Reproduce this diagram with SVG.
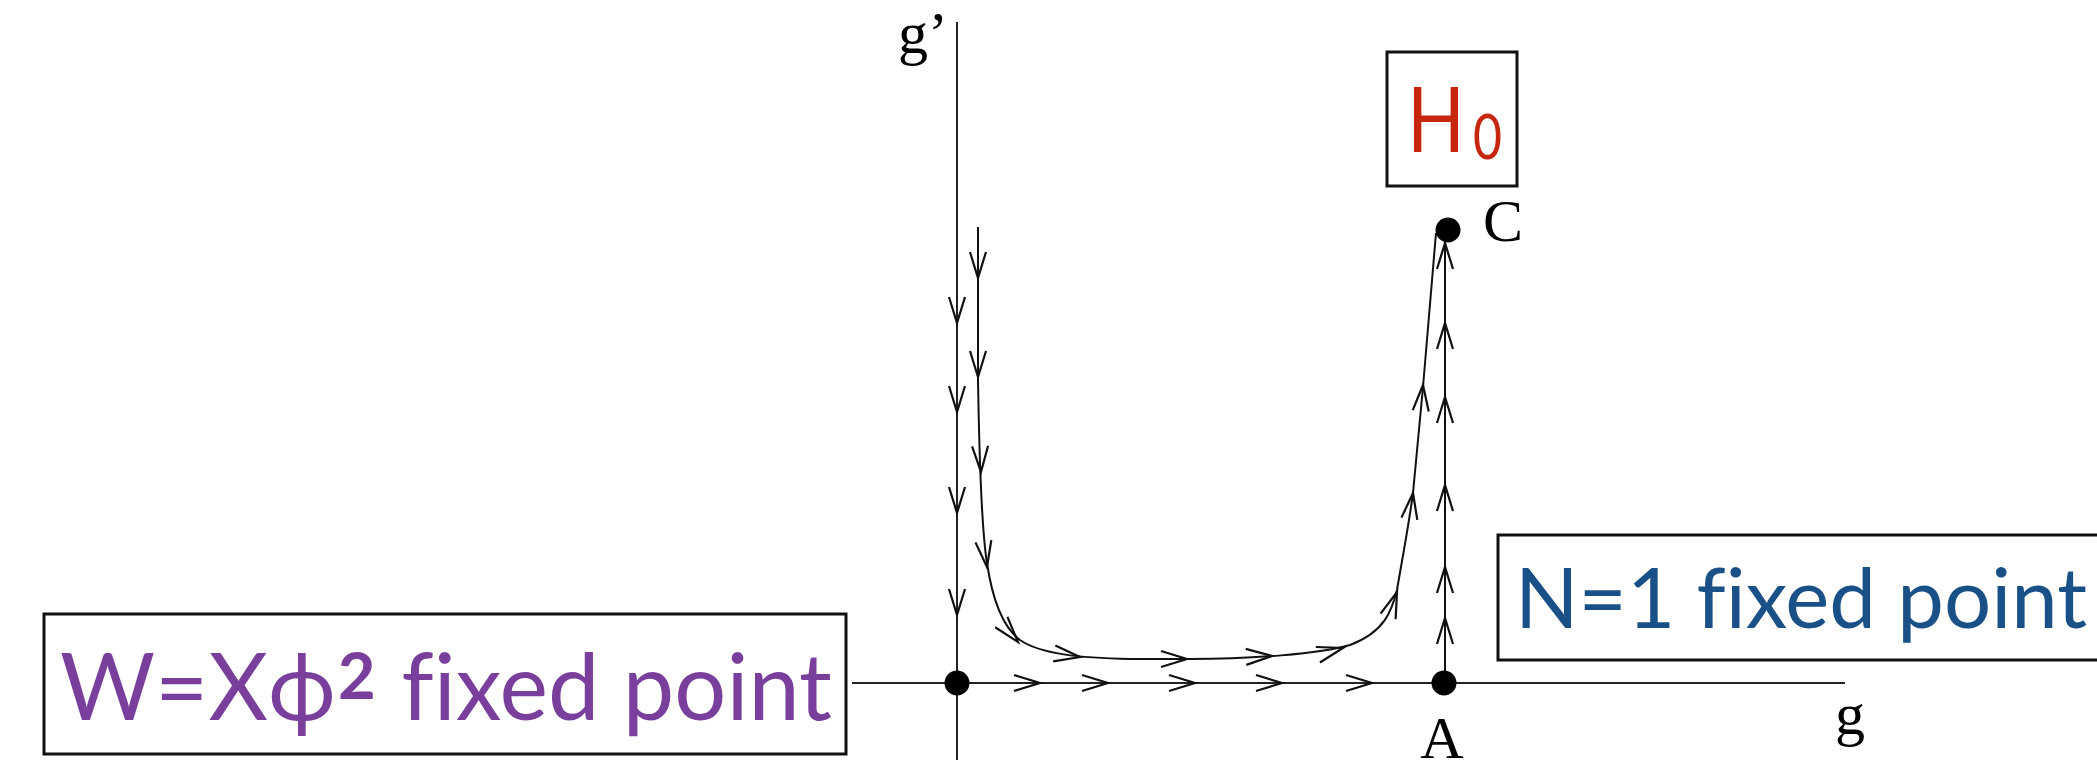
<svg xmlns="http://www.w3.org/2000/svg" xmlns:xlink="http://www.w3.org/1999/xlink" width="2097" height="760" viewBox="0 0 2097 760">
<style>
.ax{stroke:#222;stroke-width:2;fill:none}
.tr{stroke:#111;stroke-width:2;fill:none}
.dot{fill:#000}
.box{fill:#fff;stroke:#111;stroke-width:3}
.serif{font-family:"Liberation Serif","Times New Roman",serif;font-size:60px;fill:#000}
.gill{font-family:Lato,"Noto Sans","DejaVu Sans",sans-serif;font-variant-ligatures:none;font-feature-settings:"liga" 0}
</style>
<defs>
<path id="chev" d="M -26 -8 L 0 0 L -26 8" fill="none" stroke="#111" stroke-width="2.2" stroke-linejoin="miter"/>
</defs>
<rect width="2097" height="760" fill="#fff"/>
<g id="connectors">
<line class="ax" x1="957" y1="22" x2="957" y2="760"/>
<line class="ax" x1="852" y1="683" x2="1845" y2="683"/>
<line class="tr" x1="1445" y1="683" x2="1445" y2="230"/>
<path class="tr" d="M 978 227 L 978 380 C 979 430 980 520 987 563 C 991 590 1000 625 1020 640 C 1040 654 1080 658 1130 659 L 1190 659 C 1250 659 1320 654 1350 645 C 1385 632 1392 610 1397 590 C 1402 560 1408 530 1413 493 L 1423 387 L 1436 233"/>
<g id="arrows">
<use xlink:href="#chev" transform="translate(957,323) rotate(90)"/>
<use xlink:href="#chev" transform="translate(957,412) rotate(90)"/>
<use xlink:href="#chev" transform="translate(957,513) rotate(90)"/>
<use xlink:href="#chev" transform="translate(957,615) rotate(90)"/>
<use xlink:href="#chev" transform="translate(978,278) rotate(90)"/>
<use xlink:href="#chev" transform="translate(978,377) rotate(90)"/>
<use xlink:href="#chev" transform="translate(981,472) rotate(88)"/>
<use xlink:href="#chev" transform="translate(987,567) rotate(82)"/>
<use xlink:href="#chev" transform="translate(1018,642) rotate(50)"/>
<use xlink:href="#chev" transform="translate(1080,657) rotate(8)"/>
<use xlink:href="#chev" transform="translate(1187,659) rotate(0)"/>
<use xlink:href="#chev" transform="translate(1272,656) rotate(-2)"/>
<use xlink:href="#chev" transform="translate(1343,648) rotate(-15)"/>
<use xlink:href="#chev" transform="translate(1397,592) rotate(-70)"/>
<use xlink:href="#chev" transform="translate(1413,493) rotate(-82)"/>
<use xlink:href="#chev" transform="translate(1423,385) rotate(-85)"/>
<use xlink:href="#chev" transform="translate(1445,243) rotate(-90)"/>
<use xlink:href="#chev" transform="translate(1445,323) rotate(-90)"/>
<use xlink:href="#chev" transform="translate(1445,397) rotate(-90)"/>
<use xlink:href="#chev" transform="translate(1445,485) rotate(-90)"/>
<use xlink:href="#chev" transform="translate(1445,567) rotate(-90)"/>
<use xlink:href="#chev" transform="translate(1445,618) rotate(-90)"/>
<use xlink:href="#chev" transform="translate(1040,683)"/>
<use xlink:href="#chev" transform="translate(1108,683)"/>
<use xlink:href="#chev" transform="translate(1195,683)"/>
<use xlink:href="#chev" transform="translate(1282,683)"/>
<use xlink:href="#chev" transform="translate(1372,683)"/>
</g>
</g>
<g id="axis-labels">
<text class="serif" x="898" y="53">g’</text>
<text class="serif" x="1835" y="734">g</text>
</g>
<g id="node-origin"><circle class="dot" cx="957" cy="683" r="12.5"/></g>
<g id="node-A"><circle class="dot" cx="1444" cy="683" r="12.5"/><text class="serif" x="1442" y="758" text-anchor="middle">A</text></g>
<g id="node-C"><circle class="dot" cx="1448" cy="230" r="12.5"/><text class="serif" x="1483" y="241">C</text></g>
<g id="node-H0">
<rect class="box" x="1387" y="52" width="130" height="134"/>
<text class="gill" x="1407" y="152" font-size="92" fill="#c7260e" textLength="58" lengthAdjust="spacingAndGlyphs">H</text>
<text class="gill" x="1473" y="159" font-size="61" fill="#c7260e" textLength="29" lengthAdjust="spacingAndGlyphs">0</text>
</g>
<g id="node-N1">
<rect class="box" x="1498" y="535" width="640" height="125"/>
<text class="gill" x="1515" y="628" font-size="83" fill="#1a5088" textLength="572" lengthAdjust="spacingAndGlyphs">N=1 fixed point</text>
</g>
<g id="node-W">
<rect class="box" x="44" y="614" width="802" height="140"/>
<text class="gill" x="60" y="720" font-size="93" fill="#7a3f9d" textLength="772" lengthAdjust="spacingAndGlyphs">W=Xϕ<tspan font-size="128" dy="37">²</tspan><tspan dy="-37"> fixed point</tspan></text>
</g>
</svg>
